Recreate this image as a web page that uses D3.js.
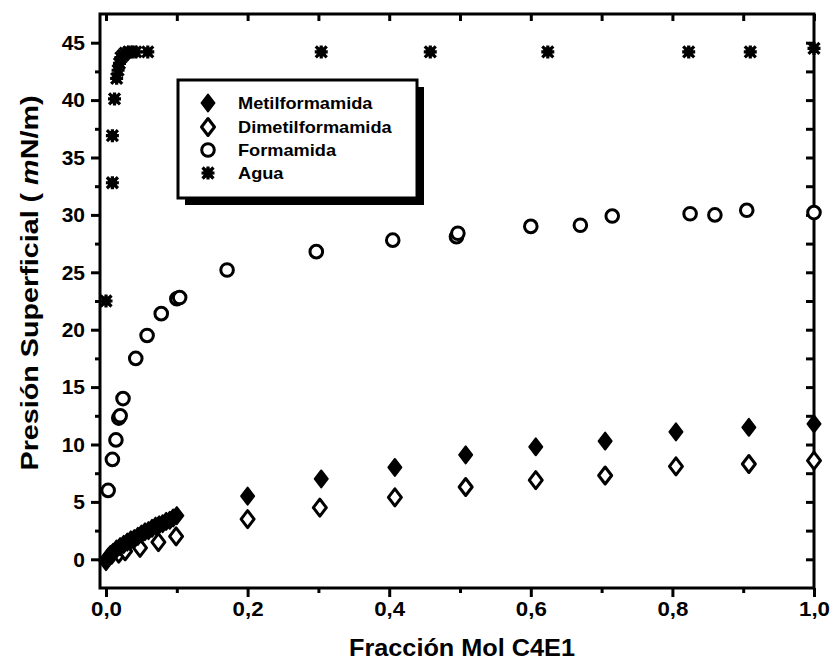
<!DOCTYPE html>
<html><head><meta charset="utf-8">
<script src="https://cdn.jsdelivr.net/npm/d3@7"></script>
<style>
body{margin:0;background:#fff}
text{font-family:"Liberation Sans",Arial,sans-serif;font-weight:bold;fill:#000}
</style>
</head><body>
<svg id="c" width="834" height="671"></svg>
<script>
// ---- data ----
const metilX=[0.000,0.003,0.006,0.010,0.015,0.020,0.025,0.030,0.035,0.040,0.045,0.050,0.055,0.060,0.065,0.070,0.075,0.080,0.085,0.090,0.095,0.100,0.200,0.304,0.408,0.508,0.607,0.705,0.805,0.908,1.000];
const metilY=[-0.2,0.2,0.4,0.6,0.9,1.1,1.3,1.5,1.7,1.8,2.0,2.2,2.4,2.5,2.7,2.9,3.0,3.1,3.3,3.4,3.6,3.8,5.5,7.0,8.0,9.1,9.8,10.3,11.1,11.5,11.8];
const dimetilX=[0.008,0.018,0.027,0.048,0.074,0.099,0.200,0.302,0.408,0.508,0.607,0.705,0.805,0.908,1.000];
const dimetilY=[0.4,0.5,0.7,1.0,1.5,2.0,3.5,4.5,5.4,6.3,6.9,7.3,8.1,8.3,8.6];
const formX=[0.003,0.009,0.014,0.018,0.020,0.024,0.042,0.058,0.078,0.100,0.104,0.171,0.297,0.405,0.495,0.497,0.600,0.670,0.715,0.825,0.860,0.905,1.000];
const formY=[6.0,8.7,10.4,12.3,12.5,14.0,17.5,19.5,21.4,22.7,22.8,25.2,26.8,27.8,28.1,28.4,29.0,29.1,29.9,30.1,30.0,30.4,30.2];
const aguaX=[0.000,0.009,0.009,0.012,0.015,0.017,0.019,0.021,0.024,0.027,0.032,0.037,0.042,0.059,0.304,0.458,0.624,0.823,0.910,1.000];
const aguaY=[22.5,32.8,36.9,40.1,41.9,42.6,43.2,43.7,43.9,44.1,44.2,44.2,44.2,44.2,44.2,44.2,44.2,44.2,44.2,44.5];
const seriesNames=["Metilformamida","Dimetilformamida","Formamida","Agua"];
const xTicks=[0,0.2,0.4,0.6,0.8,1.0];
const xMinor=[0.1,0.3,0.5,0.7,0.9];
const yTicks=[0,5,10,15,20,25,30,35,40,45];
const yMinor=[2.5,7.5,12.5,17.5,22.5,27.5,32.5,37.5,42.5];
const xTitle="Fracción Mol C4E1";

// ---- layout ----
const L=100,R=814,T=14,B=588;
const x=d3.scaleLinear().domain([-0.0085,1.0]).range([L,R]);
const y=d3.scaleLinear().domain([-2.5,47.5]).range([B,T]);
const svg=d3.select("#c");
const g=svg.append("g");

// frame
g.append("rect").attr("x",L).attr("y",T).attr("width",R-L).attr("height",B-T)
 .attr("fill","none").attr("stroke","#000").attr("stroke-width",3);

// bottom axis
const bx=g.append("g").attr("transform",`translate(0,${B})`)
 .call(d3.axisBottom(x).tickValues(xTicks).tickSize(9).tickPadding(4).tickFormat(d=>d3.format(".1f")(d).replace(".",",")));
bx.select(".domain").remove();
bx.selectAll("line").attr("stroke-width",3);
bx.selectAll("text").style("font-size","21px").attr("font-family",null).attr("textLength",31).attr("lengthAdjust","spacingAndGlyphs");
const bm=g.append("g").attr("transform",`translate(0,${B})`).call(d3.axisBottom(x).tickValues(xMinor).tickSize(5).tickFormat(""));
bm.select(".domain").remove(); bm.selectAll("line").attr("stroke-width",3);

// top axis (inward ticks)
const tx=g.append("g").attr("transform",`translate(0,${T})`).call(d3.axisTop(x).tickValues(xTicks.concat(xMinor)).tickSize(-7).tickFormat(""));
tx.select(".domain").remove(); tx.selectAll("line").attr("stroke-width",3);

// left axis
const ly=g.append("g").attr("transform",`translate(${L},0)`)
 .call(d3.axisLeft(y).tickValues(yTicks).tickSize(9).tickPadding(6));
ly.select(".domain").remove();
ly.selectAll("line").attr("stroke-width",3);
ly.selectAll("text").style("font-size","21px").attr("font-family",null);
const lm=g.append("g").attr("transform",`translate(${L},0)`).call(d3.axisLeft(y).tickValues(yMinor).tickSize(5).tickFormat(""));
lm.select(".domain").remove(); lm.selectAll("line").attr("stroke-width",3);

// right axis (inward ticks)
const ry=g.append("g").attr("transform",`translate(${R},0)`).call(d3.axisRight(y).tickValues(yTicks.concat(yMinor)).tickSize(-8).tickFormat(""));
ry.select(".domain").remove(); ry.selectAll("line").attr("stroke-width",3);

// axis titles
g.append("text").attr("x",462).attr("y",656).attr("text-anchor","middle").style("font-size","23px")
 .attr("textLength",226).attr("lengthAdjust","spacingAndGlyphs").text(xTitle);
const yt=g.append("text").attr("transform","translate(38,283) rotate(-90)").attr("text-anchor","middle").style("font-size","24px")
 .attr("textLength",375).attr("lengthAdjust","spacingAndGlyphs");
yt.append("tspan").text("Presión Superficial ( ");
yt.append("tspan").style("font-style","italic").text("m");
yt.append("tspan").text("N/m)");

// markers
const diamond="M0,-8.5 L6.5,0 L0,8.5 L-6.5,0 Z";
const aguaPath="M-5.5,-5.5 L5.5,5.5 M5.5,-5.5 L-5.5,5.5 M0,-6.5 L0,6.5 M-6.5,0 L6.5,0";
function drawAgua(sel){
  sel.append("rect").attr("x",-4.5).attr("y",-4.5).attr("width",9).attr("height",9).attr("fill","#000");
  sel.append("path").attr("d",aguaPath).attr("stroke","#000").attr("stroke-width",3.2).attr("fill","none");
}
function drawFilled(sel){sel.append("path").attr("d",diamond).attr("fill","#000").attr("stroke","#000").attr("stroke-width",2).attr("stroke-linejoin","round");}
function drawOpenD(sel){sel.append("path").attr("d",diamond).attr("fill","#fff").attr("stroke","#000").attr("stroke-width",3).attr("stroke-linejoin","round");}
function drawCircle(sel){sel.append("circle").attr("r",6.3).attr("fill","#fff").attr("stroke","#000").attr("stroke-width",3);}

const plot=g.append("g");
function series(X,Y,fn){
  plot.append("g").selectAll("g").data(X.map((v,i)=>[v,Y[i]])).join("g")
   .attr("transform",d=>`translate(${x(d[0])},${y(d[1])})`).each(function(){fn(d3.select(this));});
}
series(aguaX,aguaY,drawAgua);
series(formX,formY,drawCircle);
series(dimetilX,dimetilY,drawOpenD);
series(metilX,metilY,drawFilled);

// legend
const lg=g.append("g");
lg.append("rect").attr("x",185).attr("y",87).attr("width",239).attr("height",118).attr("fill","#000");
lg.append("rect").attr("x",178).attr("y",80).attr("width",239).attr("height",118).attr("fill","#fff").attr("stroke","#000").attr("stroke-width",3);
const fns=[drawFilled,drawOpenD,drawCircle,drawAgua];
const rowsY=[103,127,150,173];
seriesNames.forEach((n,i)=>{
  const r=lg.append("g").attr("transform",`translate(208,${rowsY[i]})`);
  fns[i](r);
  const t=lg.append("text").attr("x",238).attr("y",rowsY[i]).attr("dy","0.36em").style("font-size","17px").text(n);
  const w=t.node().getComputedTextLength();
  t.attr("textLength",w*1.07).attr("lengthAdjust","spacingAndGlyphs");
});
</script>
</body></html>
